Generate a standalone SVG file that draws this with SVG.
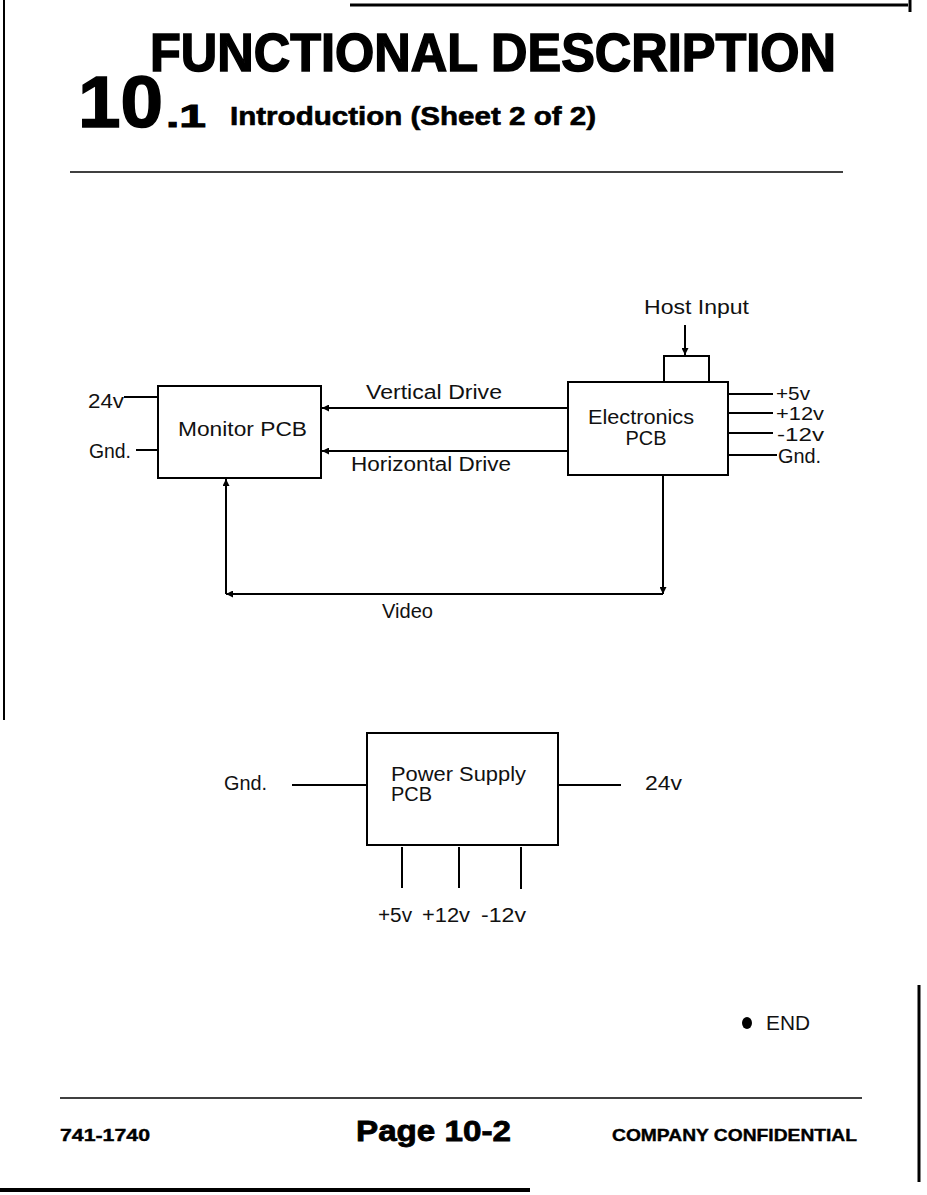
<svg xmlns="http://www.w3.org/2000/svg" width="927" height="1195" viewBox="0 0 927 1195">
<style>
.ln{stroke:#000;stroke-width:2;fill:none}
.box{stroke:#000;stroke-width:2;fill:#fff}
.lb{font-family:"Liberation Sans",Arial,sans-serif;font-size:20px;fill:#111}
.sm{font-size:18px}
.hd{font-family:"Liberation Sans",Arial,sans-serif;font-weight:bold;fill:#000}
</style>
<defs>
<marker id="ah" viewBox="0 0 10 10" refX="10" refY="5" markerWidth="9" markerHeight="7" markerUnits="userSpaceOnUse" orient="auto">
<path d="M0,0 L10,5 L0,10 z" fill="#000"/>
</marker>
</defs>
<rect width="927" height="1195" fill="#fff"/>
<g id="page-frame">
<line x1="4" y1="0" x2="4" y2="720" stroke="#000" stroke-width="2"/>
<line x1="350" y1="5" x2="908" y2="5" stroke="#000" stroke-width="3"/>
<line x1="910" y1="0" x2="910" y2="12" stroke="#000" stroke-width="3"/>
<line x1="919" y1="985" x2="919" y2="1182" stroke="#000" stroke-width="3"/>
<line x1="0" y1="1190" x2="530" y2="1190" stroke="#000" stroke-width="4"/>
</g>
<g id="header">
<text class="hd" x="150" y="71" font-size="53" stroke="#000" stroke-width="1.5" textLength="686" lengthAdjust="spacingAndGlyphs">FUNCTIONAL DESCRIPTION</text>
<text class="hd" x="78" y="127" font-size="72" stroke="#000" stroke-width="1.5" textLength="85" lengthAdjust="spacingAndGlyphs">10</text>
<text class="hd" x="166" y="127" font-size="32" stroke="#000" stroke-width="1" textLength="40" lengthAdjust="spacingAndGlyphs">.1</text>
<text class="hd" x="230" y="125" font-size="25" stroke="#000" stroke-width="0.6" textLength="366" lengthAdjust="spacingAndGlyphs">Introduction (Sheet 2 of 2)</text>
<line x1="70" y1="172" x2="843" y2="172" stroke="#000" stroke-width="1.5"/>
</g>
<g id="monitor-pcb">
<rect class="box" x="158" y="386" width="163" height="92"/>
<text class="lb" x="178" y="436" textLength="129" lengthAdjust="spacingAndGlyphs">Monitor PCB</text>
<text class="lb" x="88" y="408" textLength="36" lengthAdjust="spacingAndGlyphs">24v</text>
<line class="ln" x1="124" y1="397" x2="158" y2="397"/>
<text class="lb" x="89" y="458" textLength="42" lengthAdjust="spacingAndGlyphs">Gnd.</text>
<line class="ln" x1="136" y1="450" x2="158" y2="450"/>
</g>
<g id="electronics-pcb">
<rect class="box" x="664" y="356" width="45" height="26"/>
<rect class="box" x="568" y="382" width="160" height="93"/>
<text class="lb" x="641" y="424" text-anchor="middle" textLength="106" lengthAdjust="spacingAndGlyphs">Electronics</text>
<text class="lb" x="646" y="445" text-anchor="middle" textLength="41" lengthAdjust="spacingAndGlyphs">PCB</text>
<text class="lb" x="644" y="314" textLength="105" lengthAdjust="spacingAndGlyphs">Host Input</text>
<line class="ln" x1="728" y1="394" x2="773" y2="394"/>
<text class="lb sm" x="776" y="400" textLength="34" lengthAdjust="spacingAndGlyphs">+5v</text>
<line class="ln" x1="728" y1="413" x2="773" y2="413"/>
<text class="lb sm" x="776" y="420" textLength="48" lengthAdjust="spacingAndGlyphs">+12v</text>
<line class="ln" x1="728" y1="433" x2="773" y2="433"/>
<text class="lb sm" x="777" y="441" textLength="47" lengthAdjust="spacingAndGlyphs">-12v</text>
<line class="ln" x1="728" y1="455" x2="777" y2="455"/>
<text class="lb" x="778" y="463" textLength="43" lengthAdjust="spacingAndGlyphs">Gnd.</text>
</g>
<g id="power-supply-pcb">
<rect class="box" x="367" y="733" width="191" height="112"/>
<text class="lb" x="391" y="781" textLength="135" lengthAdjust="spacingAndGlyphs">Power Supply</text>
<text class="lb" x="391" y="801" textLength="41" lengthAdjust="spacingAndGlyphs">PCB</text>
<text class="lb" x="224" y="790" textLength="43" lengthAdjust="spacingAndGlyphs">Gnd.</text>
<line class="ln" x1="292" y1="785" x2="367" y2="785"/>
<line class="ln" x1="558" y1="785" x2="621" y2="785"/>
<text class="lb" x="645" y="790" textLength="37" lengthAdjust="spacingAndGlyphs">24v</text>
<line class="ln" x1="402" y1="847" x2="402" y2="888"/>
<line class="ln" x1="459" y1="847" x2="459" y2="888"/>
<line class="ln" x1="521" y1="847" x2="521" y2="889"/>
<text class="lb" x="378" y="922" textLength="34" lengthAdjust="spacingAndGlyphs">+5v</text>
<text class="lb" x="422" y="922" textLength="48" lengthAdjust="spacingAndGlyphs">+12v</text>
<text class="lb" x="481" y="922" textLength="45" lengthAdjust="spacingAndGlyphs">-12v</text>
</g>
<g id="connectors">
<line class="ln" x1="685" y1="325" x2="685" y2="355" marker-end="url(#ah)"/>
<line class="ln" x1="568" y1="408" x2="322" y2="408" marker-end="url(#ah)"/>
<line class="ln" x1="568" y1="451" x2="322" y2="451" marker-end="url(#ah)"/>
<line class="ln" x1="663" y1="475" x2="663" y2="594" marker-end="url(#ah)"/>
<line class="ln" x1="663" y1="594" x2="226" y2="594" marker-end="url(#ah)"/>
<line class="ln" x1="226" y1="594" x2="226" y2="479" marker-end="url(#ah)"/>
<text class="lb" x="366" y="399" textLength="136" lengthAdjust="spacingAndGlyphs">Vertical Drive</text>
<text class="lb" x="351" y="471" textLength="160" lengthAdjust="spacingAndGlyphs">Horizontal Drive</text>
<text class="lb" x="382" y="618" textLength="51" lengthAdjust="spacingAndGlyphs">Video</text>
</g>
<g id="footer">
<ellipse cx="747" cy="1023" rx="5" ry="6" fill="#000"/>
<text x="766" y="1030" font-family="Liberation Sans Narrow,Liberation Sans,Arial,sans-serif" font-size="20" textLength="44" lengthAdjust="spacingAndGlyphs" fill="#111">END</text>
<line x1="60" y1="1098" x2="862" y2="1098" stroke="#000" stroke-width="1.5"/>
<text class="hd" x="60" y="1141" font-size="17" stroke="#000" stroke-width="0.4" textLength="90" lengthAdjust="spacingAndGlyphs">741-1740</text>
<text class="hd" x="356" y="1141" font-size="29" stroke="#000" stroke-width="0.8" textLength="155" lengthAdjust="spacingAndGlyphs">Page 10-2</text>
<text class="hd" x="612" y="1141" font-size="17" stroke="#000" stroke-width="0.4" textLength="245" lengthAdjust="spacingAndGlyphs">COMPANY CONFIDENTIAL</text>
</g>
</svg>
